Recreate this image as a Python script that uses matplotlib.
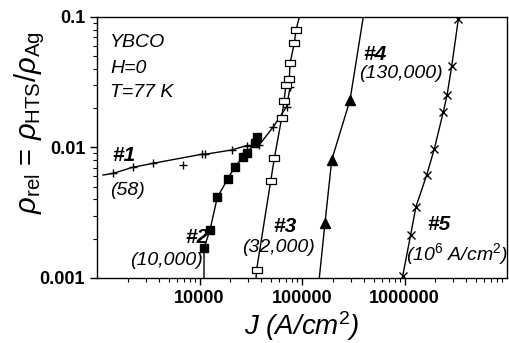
import numpy as np
import matplotlib.pyplot as plt

plt.rcParams['font.family'] = ['Liberation Sans', 'DejaVu Sans']
plt.rcParams['mathtext.fontset'] = 'custom'
plt.rcParams['mathtext.rm'] = 'Liberation Sans'
plt.rcParams['mathtext.it'] = 'Liberation Sans:italic'
plt.rcParams['mathtext.bf'] = 'Liberation Sans:bold'

# #1 (+)
j1 = [1443, 2228, 3540, 6950, 10500, 11300, 20600, 28900, 38000, 52500, 70900, 76400]
r1 = [0.00634, 0.00705, 0.00757, 0.00735, 0.00887, 0.00887, 0.00957, 0.01035, 0.0104, 0.0144, 0.0206, 0.0289]
line1_j = [1145, 1443, 2228, 3540, 10500, 11300, 20600, 28900, 38000, 52500, 70900, 76400]
line1_r = [0.00615, 0.00634, 0.00705, 0.00757, 0.00887, 0.00887, 0.00957, 0.01035, 0.0104, 0.0144, 0.0206, 0.0289]

# #2 (filled squares)
j2 = [11070, 12650, 14920, 18970, 22180, 26730, 28860, 34750, 36100]
r2 = [0.0017, 0.00233, 0.00415, 0.00578, 0.00713, 0.00851, 0.00904, 0.01076, 0.01194]
line2_j = [11070] + j2
line2_r = [0.001] + r2

# #3 (open squares)
j3 = [36100, 49500, 53700, 63400, 66700, 69800, 75200, 76400, 84100, 87400]
r3 = [0.00116, 0.00553, 0.00826, 0.0169, 0.0227, 0.0301, 0.0335, 0.0442, 0.0628, 0.0795]
line3_j = [35600] + j3 + [94200]
line3_r = [0.001] + r3 + [0.1]

# #4 (triangles)
j4 = [167500, 195000, 294000]
r4 = [0.00262, 0.00802, 0.0231]
line4_j = [147500] + j4 + [396000]
line4_r = [0.001] + r4 + [0.1]

# #5 (x)
j5 = [959000, 1148000, 1294000, 1647000, 1954000, 2393000, 2600000, 2890000, 3350000]
r5 = [0.00103, 0.00214, 0.00352, 0.00616, 0.00975, 0.0188, 0.0251, 0.0422, 0.096]
line5_j = j5 + [3430000]
line5_r = r5 + [0.1]

W, H = 509, 343
L, R, T, B = 97, 507, 17, 278

fig = plt.figure(figsize=(W / 100, H / 100), dpi=100)
ax = fig.add_axes([L / W, (H - B) / H, (R - L) / W, (B - T) / H])


def at(x, y):
    # pixel position (from top-left) -> data coords, for placing text
    return 10 ** (3 + 4 * (x - L) / (R - L)), 10 ** (-1 - 2 * (y - T) / (B - T))


rect = [(-1.4, -1), (1.4, -1), (1.4, 1), (-1.4, 1), (-1.4, -1)]

ax.plot(line1_j, line1_r, color='black', lw=1)
ax.plot(j1, r1, ls='none', marker='+', ms=6, mew=1, color='black')
ax.plot(line2_j, line2_r, color='black', lw=1, marker='s', ms=5.5,
        markevery=list(range(1, len(line2_j))))
ax.plot(line3_j, line3_r, color='black', lw=1)
ax.plot(j3, r3, ls='none', marker=rect, ms=7, mfc='white', mec='black', mew=0.9)
ax.plot(line4_j, line4_r, color='black', lw=1)
ax.plot(j4, r4, ls='none', marker='^', ms=7, color='black')
ax.plot(line5_j, line5_r, color='black', lw=1)
ax.plot(j5, r5, ls='none', marker='x', ms=6, mew=1, color='black')

ax.set_xscale('log')
ax.set_yscale('log')
ax.set_xlim(1000, 1e7)
ax.set_ylim(0.001, 0.1)
ax.set_xticks([10000, 100000, 1000000])
ax.set_xticklabels(['10000', '100000', '1000000'])
ax.set_yticks([0.001, 0.01, 0.1])
ax.set_yticklabels(['0.001', '0.01', '0.1'])
ax.tick_params(which='major', direction='out', length=5, width=1, labelsize=13)
ax.tick_params(which='minor', direction='out', length=3, width=0.8, labelleft=False, labelbottom=False)
for lab in ax.get_xticklabels() + ax.get_yticklabels():
    lab.set_fontweight('bold')
for s in ax.spines.values():
    s.set_linewidth(1)

ax.set_xlabel('J (A/cm$^{2}$)', fontsize=20, style='italic', labelpad=2)
fig.text(30 / W, 1 - 123 / H, r'$\rho_{\rm rel}$ = $\rho_{\rm HTS}/\rho_{\rm Ag}$',
         rotation=90, fontsize=21, ha='center', va='center')

it = dict(style='italic', fontsize=14, va='baseline')
bi = dict(style='italic', weight='bold', fontsize=15, va='baseline')
ax.text(*at(110, 47), 'YBCO', **it)
ax.text(*at(110, 73), 'H=0', **it)
ax.text(*at(110, 97), 'T=77 K', **it)
ax.text(*at(112, 161), '#1', **bi)
ax.text(*at(110, 195), '(58)', **it)
ax.text(*at(209, 243), '#2', ha='right', **bi)
ax.text(*at(203, 265), '(10,000)', ha='right', **it)
ax.text(*at(273, 232), '#3', **bi)
ax.text(*at(242, 252), '(32,000)', **it)
ax.text(*at(363, 60), '#4', **bi)
ax.text(*at(359, 78), '(130,000)', **it)
ax.text(*at(427, 230), '#5', **bi)
ax.text(*at(406, 260), '(10$^{\\mathit{6}}$ A/cm$^{\\mathit{2}}$)', **it)

fig.savefig('out.png', dpi=100)
